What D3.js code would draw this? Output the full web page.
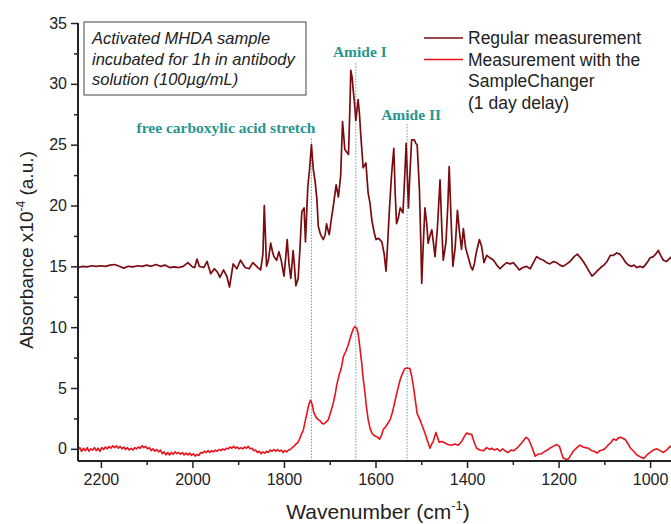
<!DOCTYPE html>
<html><head><meta charset="utf-8">
<script src="https://cdn.jsdelivr.net/npm/d3@7"></script>
<style>
body{margin:0;background:#fff;}
svg{display:block;}
</style></head>
<body><svg id="c" width="671" height="524"></svg>
<script>
// ---------- DATA ----------
const xTicks = [2200, 2000, 1800, 1600, 1400, 1200, 1000];
const xMinorTicks = [2100, 1900, 1700, 1500, 1300, 1100];
const yTicks = [0, 5, 10, 15, 20, 25, 30, 35];
const yMinorTicks = [2.5, 7.5, 12.5, 17.5, 22.5, 27.5, 32.5];

const regularWn = [2250,2240,2230,2220,2210,2200,2190,2180,2170,2160,2150,2140,2130,2120,2110,2100,2090,2080,2070,2060,2050,2040,2030,2020,2010,2000,1995,1990,1985,1975,1968,1960,1952,1945,1940,1932,1925,1919,1911,1903,1895,1885,1876,1868,1857,1851,1846,1843,1840,1838,1834,1829,1825,1822,1816,1811,1806,1800,1796,1793,1789,1785,1780,1777,1774,1769,1765,1761,1756,1753,1748,1744,1740,1736,1732,1728,1725,1720,1714,1710,1707,1704,1701,1696,1692,1686,1681,1676,1672,1667,1663,1659,1656,1654,1651,1649,1646,1643,1638,1635,1632,1627,1621,1616,1612,1608,1603,1599,1593,1586,1581,1577,1574,1570,1565,1560,1557,1554,1550,1546,1540,1536,1533,1530,1528,1525,1521,1515,1512,1509,1504,1501,1499,1496,1492,1488,1485,1481,1477,1473,1470,1465,1459,1455,1452,1446,1442,1439,1435,1431,1426,1421,1417,1412,1408,1403,1397,1392,1388,1384,1380,1373,1368,1363,1357,1350,1342,1335,1328,1320,1313,1306,1299,1292,1286,1278,1270,1262,1255,1248,1240,1233,1226,1219,1211,1204,1197,1190,1182,1175,1166,1159,1152,1146,1138,1132,1127,1121,1116,1108,1101,1094,1087,1080,1073,1066,1060,1053,1047,1040,1035,1029,1022,1016,1011,1005,1000,993,988,982,977,971,964,956,950];
const regularAbs = [14.9,15.0,14.95,15.05,15.0,15.05,15.0,15.1,15.15,15.0,14.85,15.0,14.95,15.05,15.0,15.1,15.0,15.15,15.0,15.1,14.9,14.95,14.9,15.0,15.3,14.95,14.9,15.6,15.0,14.9,15.4,14.4,14.8,14.5,14.1,14.7,14.2,13.3,15.2,14.8,15.5,14.9,14.8,15.3,14.9,14.7,16.0,20.0,17.0,15.0,15.5,16.9,16.2,15.8,15.5,16.2,15.5,14.2,15.8,17.2,15.2,14.0,16.3,15.0,13.4,14.0,16.5,19.5,19.8,17.0,21.5,23.0,25.0,23.0,22.0,20.5,18.3,17.6,17.2,17.6,18.5,18.0,17.6,19.0,20.0,21.7,20.7,22.5,26.9,24.6,24.4,24.2,28.0,31.1,30.5,29.6,28.5,27.0,28.7,27.5,25.7,23.1,23.5,21.0,20.2,18.8,17.8,17.2,17.3,17.0,16.0,14.6,16.5,19.4,22.5,24.7,21.0,18.5,19.0,19.8,19.4,22.5,25.1,22.0,19.8,22.5,25.4,25.4,25.1,25.0,21.3,17.0,13.6,16.5,19.8,18.5,16.9,17.5,18.0,16.8,15.8,18.0,22.1,18.0,15.5,17.0,20.0,23.2,19.0,15.0,16.5,19.6,18.0,16.4,18.1,16.5,15.7,15.0,14.7,15.2,16.1,17.2,16.6,15.3,15.9,15.7,15.5,15.1,14.8,15.1,15.3,15.2,15.3,15.0,14.7,14.9,15.0,14.8,15.3,15.8,15.6,15.5,15.3,15.2,15.4,15.3,15.1,15.0,15.2,15.4,15.8,16.0,15.7,15.4,14.9,14.5,14.2,14.4,14.6,14.9,15.1,15.4,15.9,15.9,16.1,16.0,15.7,15.3,15.1,15.0,15.1,14.9,15.0,14.9,15.1,15.4,15.7,15.8,16.0,16.3,15.9,15.5,15.4,15.7,15.9];

const changerWn = [2250,2246,2242,2238,2234,2230,2226,2222,2218,2214,2210,2206,2202,2198,2194,2190,2186,2182,2178,2174,2170,2166,2162,2158,2154,2150,2146,2142,2138,2134,2130,2126,2122,2118,2114,2110,2106,2102,2098,2094,2090,2086,2082,2078,2074,2070,2066,2062,2058,2054,2050,2046,2042,2038,2034,2030,2026,2022,2018,2014,2010,2006,2002,1998,1994,1990,1986,1982,1978,1974,1970,1966,1962,1958,1954,1950,1946,1942,1938,1934,1930,1926,1922,1918,1914,1910,1906,1902,1898,1894,1890,1886,1882,1878,1874,1870,1866,1862,1858,1854,1850,1846,1842,1838,1834,1830,1826,1822,1818,1814,1810,1806,1802,1798,1794,1790,1786,1782,1778,1774,1770,1766,1762,1758,1754,1750,1746,1742,1738,1735,1730,1725,1721,1717,1713,1708,1703,1699,1695,1692,1688,1685,1680,1675,1670,1665,1660,1656,1652,1648,1645,1641,1638,1634,1630,1627,1623,1620,1616,1612,1608,1603,1597,1591,1587,1583,1578,1573,1568,1563,1557,1552,1546,1541,1536,1531,1525,1521,1517,1513,1509,1503,1498,1492,1486,1481,1477,1474,1468,1464,1461,1455,1449,1442,1434,1427,1419,1412,1406,1401,1395,1390,1384,1379,1372,1364,1357,1350,1346,1340,1334,1328,1322,1316,1310,1304,1298,1291,1285,1278,1271,1266,1262,1257,1251,1245,1237,1230,1224,1219,1212,1204,1198,1194,1190,1184,1179,1173,1168,1160,1153,1147,1141,1135,1128,1122,1116,1110,1104,1098,1092,1086,1080,1074,1069,1065,1059,1054,1048,1043,1036,1029,1022,1014,1007,1000,993,985,978,971,964,956,950];
const changerAbs = [-0.1,0.1,-0.2,0.05,-0.15,0.1,-0.2,0.0,-0.1,0.1,-0.15,0.05,-0.2,0.1,-0.05,0.15,0.0,0.2,0.05,0.25,0.1,0.25,0.05,0.2,0.0,0.15,-0.05,0.1,-0.1,0.05,-0.1,0.1,0.0,0.15,0.05,0.25,0.1,0.2,0.0,0.1,-0.15,0.0,-0.2,-0.05,-0.25,-0.1,-0.4,-0.25,-0.5,-0.3,-0.5,-0.3,-0.45,-0.25,-0.4,-0.3,-0.45,-0.3,-0.5,-0.35,-0.5,-0.35,-0.55,-0.4,-0.6,-0.45,-0.55,-0.3,-0.35,-0.2,-0.3,-0.15,-0.3,-0.15,-0.25,-0.1,-0.2,-0.05,-0.15,0.0,-0.1,0.05,0.0,0.15,0.05,0.2,0.05,0.15,0.0,0.1,0.0,0.15,0.05,0.2,0.0,0.05,-0.15,-0.1,-0.3,-0.2,-0.4,-0.25,-0.35,-0.2,-0.3,-0.1,-0.2,-0.05,-0.2,-0.05,-0.2,-0.1,-0.3,-0.15,-0.25,-0.1,-0.05,0.1,0.2,0.4,0.5,0.8,1.2,1.5,2.2,2.9,3.6,4.0,3.6,3.0,2.6,2.4,2.3,2.1,2.05,2.2,2.4,2.9,3.4,3.8,4.5,5.2,6.0,6.6,7.6,8.0,8.5,9.0,9.5,9.9,10.05,9.9,9.5,8.3,7.0,5.8,4.6,3.5,2.4,1.7,1.3,1.1,1.0,0.8,1.1,1.6,1.8,2.1,2.4,3.0,4.0,4.8,5.7,6.2,6.6,6.65,6.6,6.0,5.1,4.0,2.9,2.4,1.9,1.3,0.6,0.05,0.4,0.6,1.35,0.9,0.55,0.6,0.5,0.35,0.3,0.4,0.3,0.6,1.0,1.3,1.2,1.2,0.5,0.05,-0.1,-0.15,0.1,-0.05,0.05,-0.1,0.0,-0.2,0.0,-0.2,-0.3,-0.1,-0.15,0.05,0.3,0.6,0.95,0.8,0.5,0.0,-0.6,-0.45,-0.4,-0.2,-0.1,0.05,0.2,0.35,0.2,-0.3,-0.75,-0.85,-0.85,-0.5,-0.2,0.1,0.3,0.15,0.1,0.05,-0.15,-0.2,-0.35,-0.15,-0.1,0.05,0.3,0.5,0.8,0.7,0.9,0.95,0.85,0.75,0.4,0.05,-0.2,-0.5,-0.65,-0.8,-0.5,-0.3,-0.1,0.0,-0.15,-0.3,-0.1,0.2,0.1];

const peakNames = ["free carboxylic acid stretch", "Amide I", "Amide II"];
const peakWn = [1740, 1643, 1531];
const peakLineTop = [25.5, 31.7, 26.7];
const peakLabelY = [26.0, 32.2, 27.0];

const seriesNames = ["Regular measurement", "Measurement with the", "SampleChanger", "(1 day delay)"];
const noteLines = ["Activated MHDA sample", "incubated for 1h in antibody", "solution (100\u00b5g/mL)"];

// ---------- CHART ----------
const svg = d3.select("#c");
const padL = 78, padB = 461, padT = 23, padR = 673;
const x = d3.scaleLinear().domain([2250, 950]).range([padL, padR]);
const y = d3.scaleLinear().domain([-1, 35]).range([padB, padT]);

svg.append("defs").append("clipPath").attr("id","clip")
  .append("rect").attr("x", padL).attr("y", 0).attr("width", padR-padL).attr("height", padB);

const font = "Arial, 'Liberation Sans', sans-serif";

// dotted guide lines
const g0 = svg.append("g");
peakWn.forEach((w,i)=>{
  g0.append("line").attr("x1", x(w)).attr("x2", x(w))
    .attr("y1", y(peakLineTop[i])).attr("y2", padB)
    .attr("stroke", "#5b9fb4").attr("stroke-width", 1).attr("stroke-dasharray", "1.5,1.5");
});

// lines
const line = (wn, ab) => d3.line().x((d,i)=>x(wn[i])).y((d,i)=>y(ab[i]))(wn);
const plot = svg.append("g").attr("clip-path","url(#clip)");
plot.append("path").attr("d", line(changerWn, changerAbs))
  .attr("fill","none").attr("stroke","#e8121b").attr("stroke-width",1.6).attr("stroke-linejoin","round");
plot.append("path").attr("d", line(regularWn, regularAbs))
  .attr("fill","none").attr("stroke","#7a0c10").attr("stroke-width",1.7).attr("stroke-linejoin","round");

// axes
const xAxis = svg.append("g").attr("transform", `translate(0,${padB})`)
  .call(d3.axisBottom(x).tickValues(xTicks).tickSize(7).tickPadding(6).tickFormat(d3.format("d")));
svg.append("g").attr("transform", `translate(0,${padB})`)
  .call(d3.axisBottom(x).tickValues(xMinorTicks).tickSize(4).tickFormat(""))
  .call(g=>g.select(".domain").remove());
const yAxis = svg.append("g").attr("transform", `translate(${padL},0)`)
  .call(d3.axisLeft(y).tickValues(yTicks).tickSize(7).tickPadding(4));
svg.append("g").attr("transform", `translate(${padL},0)`)
  .call(d3.axisLeft(y).tickValues(yMinorTicks).tickSize(4).tickFormat(""))
  .call(g=>g.select(".domain").remove());
svg.selectAll(".tick line").attr("stroke","#222").attr("stroke-width",1.5);
svg.selectAll(".domain").attr("stroke","#222").attr("stroke-width",2);
xAxis.select(".domain").attr("d", `M${padL},0H671`);
yAxis.select(".domain").attr("d", `M0,${padT}V${padB}`);
svg.selectAll(".tick text").attr("font-family", font).attr("font-size", 16).attr("fill","#222");

// axis titles
const xt = svg.append("text").attr("x", 378).attr("y", 519).attr("text-anchor","middle")
  .attr("font-family", font).attr("font-size", 21).attr("fill","#222");
xt.append("tspan").text("Wavenumber (cm");
xt.append("tspan").attr("font-size", 13).attr("dy", -9).text("-1");
xt.append("tspan").attr("dy", 9).text(")");

const yt = svg.append("text").attr("transform","translate(33,250) rotate(-90)").attr("text-anchor","middle")
  .attr("font-family", font).attr("font-size", 19).attr("fill","#222");
yt.append("tspan").text("Absorbance x10");
yt.append("tspan").attr("font-size", 12).attr("dy", -8).text("-4");
yt.append("tspan").attr("dy", 8).text(" (a.u.)");

// peak labels
peakNames.forEach((n,i)=>{
  svg.append("text").attr("x", i===0 ? 226 : x(peakWn[i]) + 4).attr("y", y(peakLabelY[i]))
    .attr("text-anchor","middle").attr("font-family","'Liberation Serif', 'DejaVu Serif', serif")
    .attr("font-weight","bold").attr("font-size", 15.5).attr("fill","#2a9590").text(n);
});

// note box
svg.append("rect").attr("x", 84).attr("y", 22).attr("width", 222).attr("height", 73)
  .attr("fill","#fff").attr("stroke","#444").attr("stroke-width",1);
noteLines.forEach((t,i)=>{
  svg.append("text").attr("x", 92).attr("y", 44 + i*20.5).attr("font-family", font)
    .attr("font-style","italic").attr("font-size", 16.5).attr("fill","#222").text(t);
});

// legend
const legColors = ["#7a0c10", "#e8121b"];
legColors.forEach((c,i)=>{
  svg.append("line").attr("x1", 424).attr("x2", 463).attr("y1", 38 + i*21.5).attr("y2", 38 + i*21.5)
    .attr("stroke", c).attr("stroke-width", 1.7);
});
seriesNames.forEach((t,i)=>{
  svg.append("text").attr("x", 468).attr("y", 44 + i*21.5).attr("font-family", font)
    .attr("font-size", 17.5).attr("fill","#222").text(t);
});
</script></body></html>
